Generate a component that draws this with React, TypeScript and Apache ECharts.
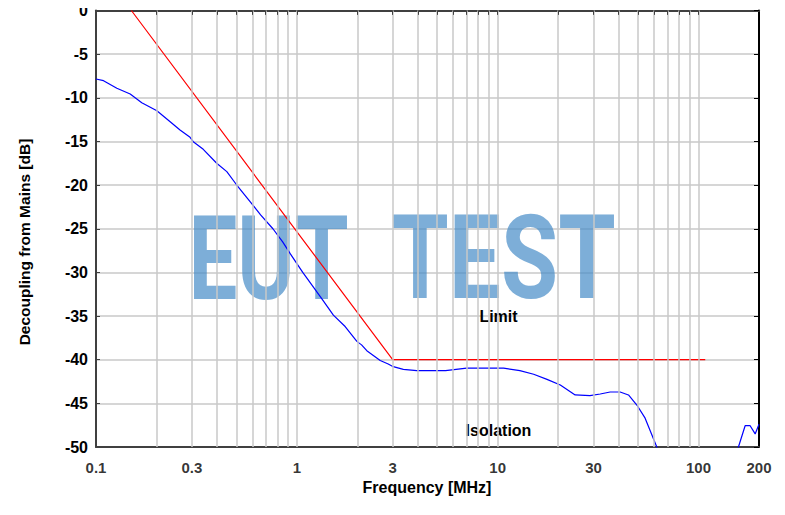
import React, { useEffect, useRef } from 'react';
import * as echarts from 'echarts';

// ---- data ----
const X_TICKS = [0.1, 0.3, 1, 3, 10, 30, 100, 200];
const X_TICK_LABELS = ['0.1', '0.3', '1', '3', '10', '30', '100', '200'];
const GRID_FREQS = [
  0.2, 0.3, 0.4, 0.5, 0.6, 0.7, 0.8, 0.9,
  1, 2, 3, 4, 5, 6, 7, 8, 9,
  10, 20, 30, 40, 50, 60, 70, 80, 90,
  100,
];
const Y_MIN = -50;
const Y_MAX = 0;
const Y_STEP = 5;

const LIMIT_FREQ = [0.15, 3, 108];
const LIMIT_DB = [0, -40, -40];

const ISO_FREQ = [
  0.1, 0.109, 0.127, 0.148, 0.169, 0.201, 0.234, 0.262, 0.294, 0.305, 0.342, 0.399,
  0.448, 0.502, 0.585, 0.66, 0.76, 0.85, 0.93, 1.07, 1.33, 1.52, 1.74, 1.99, 2.1,
  2.23, 2.6, 2.85, 3.02, 3.39, 3.95, 5.5, 7.0, 10.7, 12.9, 15.1, 17.6, 20.5, 24.3,
  28.8, 32.4, 36.3, 40.7, 44.8, 49.3, 54.2, 61.9, 70, 140, 158, 170.6, 180.7, 191.4, 200,
];
const ISO_DB = [
  -7.85, -8.04, -8.9, -9.56, -10.56, -11.48, -12.74, -13.69, -14.53, -15.03, -15.9, -17.5,
  -18.46, -19.99, -21.9, -23.4, -25.0, -26.5, -27.9, -30.0, -33.0, -34.9, -36.2, -37.9, -38.3,
  -38.97, -40.1, -40.5, -40.8, -41.1, -41.26, -41.26, -40.97, -40.97, -41.26, -41.67, -42.25, -42.9, -44.04,
  -44.12, -43.93, -43.7, -43.7, -44.04, -45.19, -46.7, -49.97, -54, -56, -50, -47.56, -47.56, -48.5, -47.4,
];

const SERIES_NAMES = { limit: 'Limit', iso: 'Isolation' };
const X_NAME = 'Frequency [MHz]';
const Y_NAME = 'Decoupling from Mains [dB]';
const WATERMARK = ['EUT', 'TEST'];

const FONT = '"Liberation Sans", Arial, sans-serif';
const AXIS_DARK = '#404040';
const GRID_COLOR = '#c8c8c8';
const WM_FILL = 'rgba(70,140,200,0.7)';

export default function App() {
  const ref = useRef<HTMLDivElement>(null);

  useEffect(() => {
    if (!ref.current) return;
    const chart = echarts.init(ref.current, null, { renderer: 'svg' });

    const gridLines = GRID_FREQS.map((f) => ({ xAxis: f }));
    const topTicks = GRID_FREQS.concat([0.1]).map((f) => [
      { coord: [f, Y_MAX] },
      { coord: [f, Y_MAX - 0.5] },
    ]);

    const labelText = (text: string, x: number, y: number, size: number, extra: any = {}) => ({
      type: 'text',
      z: 5,
      x,
      y,
      ...extra,
      style: {
        text,
        fontFamily: FONT,
        fontWeight: 'bold',
        fontSize: size,
        fill: '#000',
        align: 'center',
        verticalAlign: 'middle',
      },
    });

    const wmText = (text: string, x: number, scaleX: number) => ({
      type: 'text',
      z: 1,
      x,
      y: 259,
      scaleX,
      style: {
        text,
        fontFamily: 'Roboto',
        fontSize: 116,
        fontWeight: 'bold',
        fill: WM_FILL,
        align: 'center',
        verticalAlign: 'middle',
      },
    });

    const option: any = {
      animation: false,
      backgroundColor: '#ffffff',
      textStyle: { fontFamily: FONT },
      grid: { left: 96, top: 10.5, right: 26, bottom: 68, containLabel: false },
      xAxis: [
        {
          type: 'log',
          logBase: 10,
          min: 0.1,
          max: 200,
          position: 'bottom',
          axisLine: { show: true, onZero: false, lineStyle: { color: AXIS_DARK, width: 2 } },
          axisTick: { show: false },
          axisLabel: { show: false },
          splitLine: { show: false },
          minorTick: { show: false },
          minorSplitLine: { show: false },
        },
        {
          type: 'log',
          logBase: 10,
          min: 0.1,
          max: 200,
          position: 'top',
          axisLine: { show: true, onZero: false, lineStyle: { color: AXIS_DARK, width: 2 } },
          axisTick: { show: false },
          axisLabel: { show: false },
          splitLine: { show: false },
        },
      ],
      yAxis: [
        {
          type: 'value',
          min: Y_MIN,
          max: Y_MAX,
          interval: Y_STEP,
          position: 'left',
          axisLine: { show: true, onZero: false, lineStyle: { color: AXIS_DARK, width: 2 } },
          axisTick: { show: true, inside: true, length: 4, lineStyle: { color: AXIS_DARK, width: 1 } },
          axisLabel: { fontFamily: FONT, fontWeight: 'bold', fontSize: 16, color: '#000', margin: 8 },
          splitLine: { show: true, lineStyle: { color: GRID_COLOR, width: 1.5 } },
        },
        {
          type: 'value',
          min: Y_MIN,
          max: Y_MAX,
          interval: Y_STEP,
          position: 'right',
          axisLine: { show: true, onZero: false, lineStyle: { color: '#000', width: 2 } },
          axisTick: { show: true, inside: true, length: 5, lineStyle: { color: '#000', width: 1 } },
          axisLabel: { show: false },
          splitLine: { show: false },
        },
      ],
      graphic: [
        wmText(WATERMARK[0], 268.5, 0.75),
        wmText(WATERMARK[1], 503.5, 0.8),
        labelText(SERIES_NAMES.limit, 498.5, 316, 16),
        labelText(SERIES_NAMES.iso, 498.5, 430, 16),
        labelText(X_NAME, 427, 487, 16),
        labelText(Y_NAME, 24.5, 242, 15.5, { rotation: Math.PI / 2 }),
      ],
      series: [
        {
          name: 'grid',
          type: 'line',
          data: [],
          z: 0,
          silent: true,
          markLine: {
            silent: true,
            symbol: ['none', 'none'],
            label: { show: false },
            animation: false,
            lineStyle: { color: GRID_COLOR, width: 1.5, type: 'solid' },
            data: gridLines,
          },
        },
        {
          name: 'topTicks',
          type: 'line',
          data: [],
          z: 3,
          silent: true,
          markLine: {
            silent: true,
            symbol: ['none', 'none'],
            label: { show: false },
            animation: false,
            lineStyle: { color: AXIS_DARK, width: 1, type: 'solid' },
            data: topTicks,
          },
        },
        {
          name: SERIES_NAMES.limit,
          type: 'line',
          showSymbol: false,
          symbol: 'none',
          z: 3,
          lineStyle: { color: '#ff0000', width: 1.2 },
          data: LIMIT_FREQ.map((f, i) => [f, LIMIT_DB[i]]),
        },
        {
          name: SERIES_NAMES.iso,
          type: 'line',
          showSymbol: false,
          symbol: 'none',
          z: 4,
          clip: true,
          lineStyle: { color: '#0000ff', width: 1.2 },
          data: ISO_FREQ.map((f, i) => [f, ISO_DB[i]]),
        },
        {
          name: 'xLabels',
          type: 'scatter',
          symbolSize: 0,
          clip: false,
          silent: true,
          z: 5,
          label: {
            show: true,
            position: 'bottom',
            distance: 13,
            fontFamily: FONT,
            fontWeight: 'bold',
            fontSize: 15,
            color: '#000',
            formatter: (p: any) => X_TICK_LABELS[p.dataIndex],
          },
          data: X_TICKS.map((f) => [f, Y_MIN]),
        },
      ],
    };

    chart.setOption(option);
    return () => chart.dispose();
  }, []);

  return <div ref={ref} style={{ width: 785, height: 515, margin: -8 }} />;
}
